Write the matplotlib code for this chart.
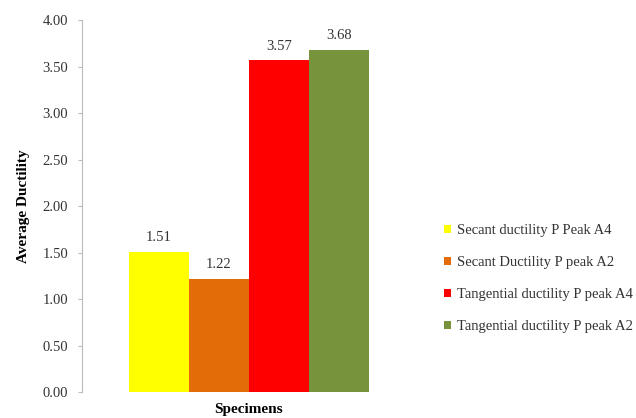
import matplotlib.pyplot as plt
import numpy as np

# data
series = ['Secant ductility P Peak A4', 'Secant Ductility P peak A2',
          'Tangential ductility P peak A4', 'Tangential ductility P peak A2']
values = [1.51, 1.22, 3.57, 3.68]
colors = ['#FFFF00', '#E36C09', '#FF0000', '#77933C']
yticks = [0.0, 0.5, 1.0, 1.5, 2.0, 2.5, 3.0, 3.5, 4.0]

plt.rcParams['font.family'] = ['Liberation Serif', 'DejaVu Serif']

fig = plt.figure(figsize=(6.36, 4.18), dpi=100)
ax = fig.add_axes([0.129, 0.062, 0.525, 0.890])

w = 0.18
offsets = (np.arange(len(values)) - 1.5) * w
for off, v, c, name in zip(offsets, values, colors, series):
    ax.bar(off, v, width=w, color=c, label=name)
    ax.text(off, v + 0.08, '%.2f' % v, ha='center', va='bottom',
            fontsize=10.5, color='#333333')

ax.set_xlim(-0.5, 0.5)
ax.set_ylim(0, 4)
ax.set_yticks(yticks)
ax.set_yticklabels(['%.2f' % t for t in yticks], fontsize=10.5, color='#333333')
ax.set_xticks([])
ax.tick_params(axis='y', length=3, color='#BBBBBB', pad=7)

for s in ['top', 'right', 'bottom']:
    ax.spines[s].set_visible(False)
ax.spines['left'].set_color('#BBBBBB')

ax.set_ylabel('Average Ductility', fontsize=11, fontweight='bold', labelpad=9)
ax.set_xlabel('Specimens', fontsize=11, fontweight='bold', labelpad=8)

leg = ax.legend(loc='center left', bbox_to_anchor=(1.045, 0.305), frameon=False,
                fontsize=10.5, handlelength=0.45, handleheight=0.45,
                handletextpad=0.45, labelspacing=1.3)
for t in leg.get_texts():
    t.set_color('#333333')

fig.savefig('out.png', dpi=100)
